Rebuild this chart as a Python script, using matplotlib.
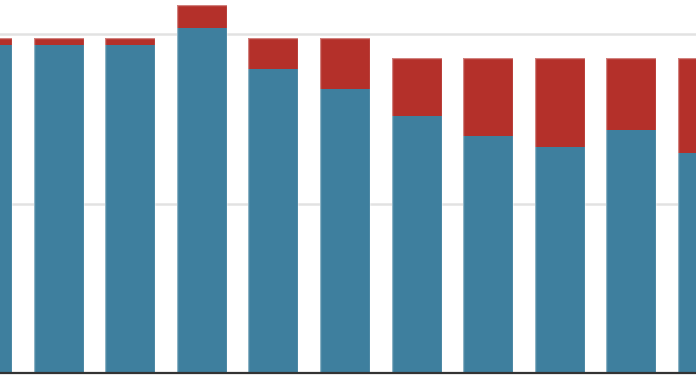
import matplotlib
matplotlib.use("Agg")
import matplotlib.pyplot as plt
import numpy as np

categories = list(range(11))
blue_values = [96.7, 96.7, 96.7, 101.8, 89.7, 83.8, 75.8, 69.8, 66.8, 71.8, 64.9]
red_values = [2.0, 2.0, 2.0, 6.8, 9.0, 14.9, 17.0, 23.0, 26.0, 21.0, 27.9]
grid_values = [50, 100]

BLUE = "#3e7f9e"
RED = "#b4302a"

fig = plt.figure(figsize=(6.96, 3.85), dpi=100)
ax = fig.add_axes([0, 12 / 385, 1, 373 / 385])

x = np.array(categories)
totals = np.array(blue_values) + np.array(red_values)
ax.bar(x, blue_values, width=0.70, color=BLUE, linewidth=0, zorder=2)
ax.bar(x, red_values, width=0.70, bottom=blue_values, color=RED, linewidth=0, zorder=2)
ax.bar(x, totals, width=0.70, facecolor="none", edgecolor=(1, 1, 1, 0.4),
       linewidth=1.0, zorder=2.5)

for g in grid_values:
    ax.axhline(g, color="#e2e2e2", linewidth=1.8, zorder=1)

ax.set_xlim(0.1816, 9.902)
ax.set_ylim(0, 110.03)
for s in ["top", "right", "left"]:
    ax.spines[s].set_visible(False)
ax.spines["bottom"].set_color("#333333")
ax.spines["bottom"].set_linewidth(1.6)
ax.spines["bottom"].set_zorder(3)
ax.set_xticks([])
ax.set_yticks([])
ax.patch.set_alpha(0)

fig.savefig("out.png", dpi=100)
